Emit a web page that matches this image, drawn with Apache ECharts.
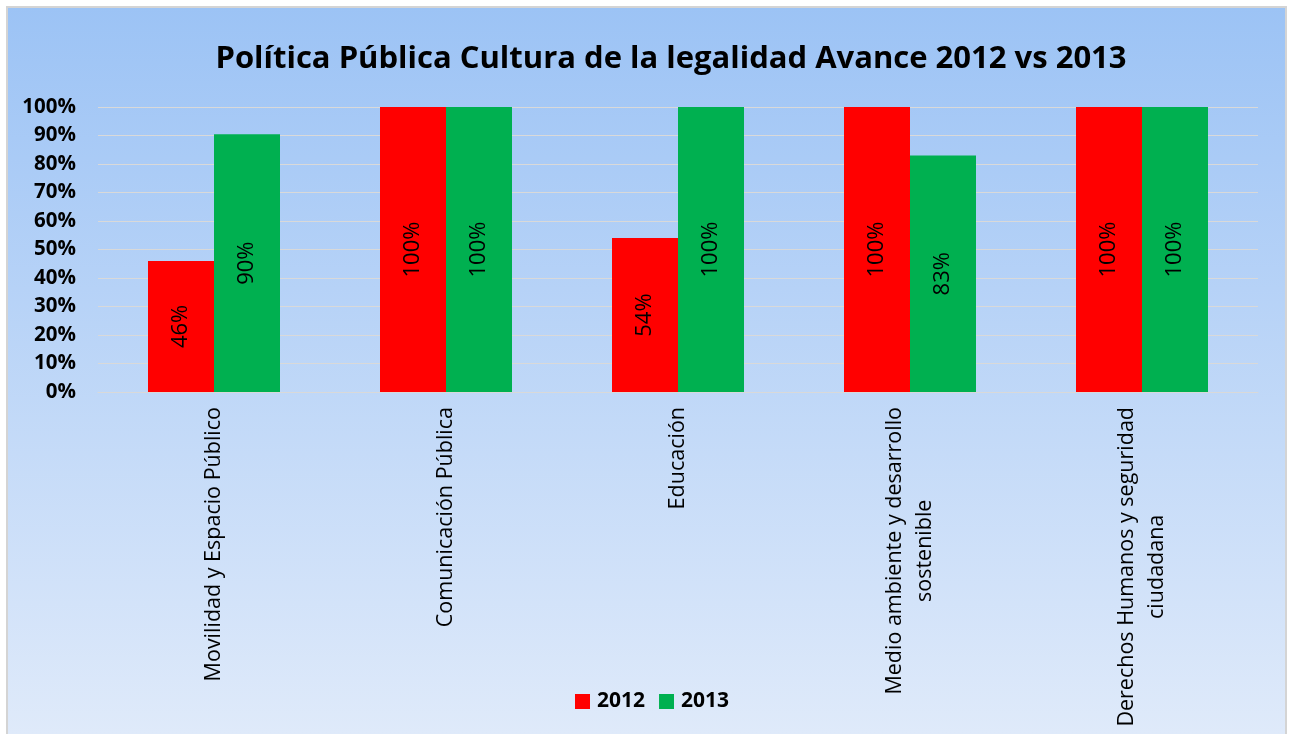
<!DOCTYPE html>
<html>
<head>
<meta charset="utf-8">
<script src="https://cdn.jsdelivr.net/npm/echarts@6/dist/echarts.min.js"></script>
<style>
html,body{margin:0;padding:0;background:#ffffff;}
#frame{position:absolute;left:6px;top:6px;width:1281px;height:728px;border:2px solid #d4d4d4;border-bottom:none;box-sizing:border-box;
background:linear-gradient(to bottom,#9cc3f5 0%,#dfeafa 100%);}
#c{position:absolute;left:0;top:0;width:1295px;height:734px;}
</style>
</head>
<body>
<div id="frame"></div>
<div id="c"></div>
<script>
const categories = [
  "Movilidad y Espacio Público",
  "Comunicación Pública",
  "Educación",
  "Medio ambiente y desarrollo\nsostenible",
  "Derechos Humanos y seguridad\nciudadana"
];
const seriesNames = ["2012", "2013"];
const values2012 = [46, 100, 54, 100, 100];
const values2013 = [90.4, 100, 100, 83, 100];
const yTicks = [0, 10, 20, 30, 40, 50, 60, 70, 80, 90, 100];
const titleText = "Política Pública Cultura de la legalidad Avance 2012 vs 2013";

const FONT = '"Open Sans", "Noto Sans", sans-serif';
const chart = echarts.init(document.getElementById('c'), null, {renderer: 'canvas'});

const labelStyle = {
  show: true,
  position: 'inside',
  rotate: 90,
  color: '#000',
  fontFamily: FONT,
  fontSize: 22,
  formatter: p => Math.round(p.value) + '%'
};

chart.setOption({
  backgroundColor: 'transparent',
  animation: false,
  title: {
    text: titleText,
    left: 666,
    textAlign: 'center',
    top: 39,
    textStyle: {fontFamily: FONT, fontWeight: 'bold', fontSize: 31, color: '#000'}
  },
  legend: {
    data: seriesNames,
    left: 570,
    top: 686,
    itemWidth: 15,
    itemHeight: 15,
    itemGap: 14,
    icon: 'rect',
    textStyle: {fontFamily: FONT, fontWeight: 'bold', fontSize: 21, color: '#000', padding: [0, 0, 0, 2]}
  },
  grid: {left: 98, right: 37, top: 107, bottom: 342, containLabel: false},
  xAxis: {
    type: 'category',
    data: categories,
    axisLine: {show: true, lineStyle: {color: '#d9d9d9', width: 1}},
    axisTick: {show: false},
    axisLabel: {
      interval: 0,
      rotate: 90,
      margin: 15,
      color: '#000',
      fontFamily: FONT,
      fontSize: 21.5,
      lineHeight: 30,
      formatter: v => v.split('\n').map(s => '{c|' + s + '}').join('\n'),
      rich: {c: {align: 'center', fontFamily: FONT, fontSize: 21.5, lineHeight: 30, color: '#000'}}
    }
  },
  yAxis: {
    type: 'value',
    min: yTicks[0],
    max: yTicks[yTicks.length - 1],
    interval: yTicks[1] - yTicks[0],
    axisLine: {show: false},
    axisTick: {show: false},
    splitLine: {show: true, lineStyle: {color: '#d9d9d9', width: 1}},
    axisLabel: {
      margin: 22,
      color: '#000',
      fontFamily: FONT,
      fontWeight: 'bold',
      fontSize: 20.5,
      formatter: v => v + '%'
    }
  },
  series: [
    {
      name: seriesNames[0],
      type: 'bar',
      data: values2012,
      barWidth: 66,
      barGap: '0%',
      itemStyle: {color: '#ff0000'},
      label: labelStyle
    },
    {
      name: seriesNames[1],
      type: 'bar',
      data: values2013,
      barWidth: 66,
      barGap: '0%',
      itemStyle: {color: '#00b050'},
      label: labelStyle
    }
  ]
});
</script>
</body>
</html>
